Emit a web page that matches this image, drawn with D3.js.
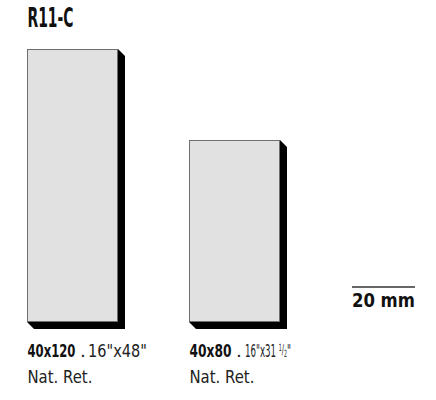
<!DOCTYPE html>
<html><head><meta charset="utf-8">
<script src="https://cdn.jsdelivr.net/npm/d3@7/dist/d3.min.js"></script>
<style>
html,body{margin:0;padding:0;background:#fff;}
text{font-family:"DejaVu Sans",sans-serif;}
</style></head>
<body><svg id="c" width="436" height="400"></svg>
<script>
const title = "R11-C";
const formats = ["40x120", "40x80"];
const widthsCm = [40, 40];
const heightsCm = [120, 80];
const inchLabels = [["16\"x48\""], ["16\"x31 ", "1", "/", "2", "\""]];
const finishes = ["Nat. Ret.", "Nat. Ret."];
const scaleLabel = "20 mm";

const svg = d3.select("#c");
const baseY = 322;
const size = d3.scaleLinear().domain([0, 120]).range([0, 273]);
const x = d3.scaleBand().domain(formats).range([27, 351]).paddingInner(0);
const sh = 7;

// squeeze a text element horizontally to a target width, keeping its left edge
function fit(sel, x0, target) {
  const w = sel.node().getComputedTextLength();
  const k = target / w;
  sel.attr("transform", `translate(${x0},0) scale(${k},1) translate(${-x0},0)`);
}

const tt = svg.append("text").attr("x", 27.5).attr("y", 27.3).attr("font-size", 26).attr("font-weight", "bold")
  .attr("fill", "#111").text(title);
fit(tt, 27.5, 46);

// layout of label pieces (left x offsets relative to tile left, widths)
const boldW = [48, 42];
const dotDx = [53, 47];
const inchDx = [61, 56];
const inchW = [59, 46];

const g = svg.selectAll("g.tile").data(formats).join("g").attr("class", "tile");
g.each(function(f, i) {
  const sel = d3.select(this);
  const L = x(f), W = size(widthsCm[i]), H = size(heightsCm[i]);
  const R = L + W, T = baseY - H, B = baseY;
  sel.append("polygon")
    .attr("points", [[L, B], [R, T], [R + sh, T + sh], [R + sh, B + sh], [L + sh, B + sh]].map(p => p.join(",")).join(" "))
    .attr("fill", "#000");
  sel.append("rect").attr("x", L + 0.5).attr("y", T + 0.5).attr("width", W - 1).attr("height", H - 1)
    .attr("fill", "#e1e1e1").attr("stroke", "#6e6e6e").attr("stroke-width", 1);
  const lx = L + 0.5;
  const yb = 356.7;
  const b = sel.append("text").attr("x", lx).attr("y", yb).attr("font-size", 18.5).attr("font-weight", "bold")
    .attr("fill", "#111").text(f);
  fit(b, lx, boldW[i]);
  sel.append("text").attr("x", L + dotDx[i]).attr("y", yb).attr("font-size", 18.5).attr("fill", "#222").text(".");
  const ix = L + inchDx[i];
  const t = sel.append("text").attr("x", ix).attr("y", yb).attr("font-size", 18.5).attr("fill", "#222");
  const parts = inchLabels[i];
  if (parts.length === 1) {
    t.append("tspan").text(parts[0]);
  } else {
    t.append("tspan").text(parts[0]);
    t.append("tspan").attr("font-size", 10).attr("dy", -6).text(parts[1]);
    t.append("tspan").attr("font-size", 14).attr("dy", 3).text(parts[2]);
    t.append("tspan").attr("font-size", 10).attr("dy", 3).text(parts[3]);
    t.append("tspan").attr("dy", 0).text(parts[4]);
  }
  fit(t, ix, inchW[i]);
  const n = sel.append("text").attr("x", lx).attr("y", 382.7).attr("font-size", 18.5).attr("fill", "#222").text(finishes[i]);
  fit(n, lx, 65);
});

svg.append("line").attr("x1", 352).attr("x2", 415).attr("y1", 287).attr("y2", 287)
  .attr("stroke", "#333").attr("stroke-width", 1.5);
const st = svg.append("text").attr("x", 352).attr("y", 307).attr("font-size", 19.5)
  .attr("font-weight", "bold").attr("fill", "#111").text(scaleLabel);
fit(st, 352, 63);
</script></body></html>
